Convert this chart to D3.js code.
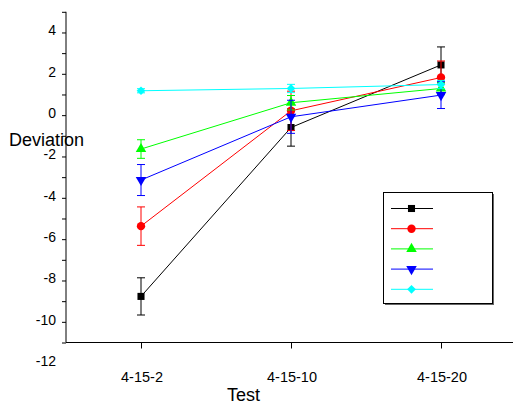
<!DOCTYPE html>
<html>
<head>
<meta charset="utf-8">
<script src="https://cdn.jsdelivr.net/npm/d3@7"></script>
<style>
  body { margin: 0; background: #fff; }
  svg { display: block; font-family: Arial, "Liberation Sans", sans-serif; }
</style>
</head>
<body>
<svg id="chart" width="513" height="405"></svg>
<script>
// categories on the x axis
const tests = ["4-15-2", "4-15-10", "4-15-20"];

// series means
const blackVals = [-8.77, -0.6, 2.43];
const redVals = [-5.37, 0.21, 1.82];
const greenVals = [-1.64, 0.6, 1.29];
const blueVals = [-3.14, -0.08, 0.97];
const cyanVals = [1.18, 1.29, 1.48];

// error bar half heights
const blackErr = [0.9, 0.9, 0.87];
const redErr = [0.93, 0.95, 0.8];
const greenErr = [0.45, 0.35, 0.3];
const blueErr = [0.75, 0.8, 0.65];
const cyanErr = [0.1, 0.2, 0.2];

const yTickLabels = [4, 2, 0, -2, -4, -6, -8, -10, -12];

const series = [
  { color: "#000000", sym: d3.symbolSquare, size: 50, rot: 0, vals: blackVals, err: blackErr },
  { color: "#ff0000", sym: d3.symbolCircle, size: 55, rot: 0, vals: redVals, err: redErr },
  { color: "#00ff00", sym: d3.symbolTriangle, size: 48, rot: 0, vals: greenVals, err: greenErr },
  { color: "#0000ff", sym: d3.symbolTriangle, size: 48, rot: 180, vals: blueVals, err: blueErr },
  { color: "#00ffff", sym: d3.symbolSquare, size: 38, rot: 45, vals: cyanVals, err: cyanErr }
];

const svg = d3.select("#chart");

const x = d3.scalePoint().domain(tests).range([66, 516]).padding(0.5);
const y = d3.scaleLinear().domain([-11, 5]).range([342.5, 11.8]);

// y axis with a tick at every unit, labels on the even values
const yAxis = d3.axisLeft(y)
  .tickValues(d3.range(-11, 6))
  .tickSize(4)
  .tickFormat("");
const gy = svg.append("g").attr("transform", "translate(66,0)").call(yAxis);
gy.select(".domain").attr("d", `M0,${y(5)}V${y(-11)}`);
gy.selectAll("line, path").attr("stroke", "#000");

svg.append("g").selectAll("text")
  .data(yTickLabels)
  .join("text")
  .attr("x", 56)
  .attr("y", d => y(d) + 3)
  .attr("text-anchor", "end")
  .attr("font-size", 14)
  .text(d => d);

// x axis
const xAxis = d3.axisBottom(x).tickSize(6).tickFormat("");
const gx = svg.append("g").attr("transform", `translate(0,${y(-11)})`).call(xAxis);
gx.select(".domain").attr("d", "M66,0H513");
gx.selectAll("line, path").attr("stroke", "#000");

svg.append("g").selectAll("text")
  .data(tests)
  .join("text")
  .attr("x", d => x(d) + 1)
  .attr("y", 382)
  .attr("text-anchor", "middle")
  .attr("font-size", 14.5)
  .text(d => d);

svg.append("text")
  .attr("x", 243.5)
  .attr("y", 401)
  .attr("text-anchor", "middle")
  .attr("font-size", 18)
  .text("Test");

const line = d3.line()
  .x((d, i) => x(tests[i]))
  .y(d => y(d));

series.forEach(s => {
  const g = svg.append("g");
  g.append("path")
    .attr("d", line(s.vals))
    .attr("fill", "none")
    .attr("stroke", s.color)
    .attr("stroke-width", 1);

  // error bars
  s.vals.forEach((v, i) => {
    const cx = x(tests[i]);
    const top = y(v + s.err[i]);
    const bot = y(v - s.err[i]);
    g.append("path")
      .attr("d", `M${cx},${top}V${bot}M${cx - 4},${top}H${cx + 4}M${cx - 4},${bot}H${cx + 4}`)
      .attr("stroke", s.color)
      .attr("fill", "none");
  });

  g.selectAll(".pt")
    .data(s.vals)
    .join("path")
    .attr("transform", (d, i) => `translate(${x(tests[i])},${y(d)}) rotate(${s.rot})`)
    .attr("d", d3.symbol().type(s.sym).size(s.size))
    .attr("fill", s.color);
});

// y axis title, drawn over the axis like the original
svg.append("text")
  .attr("x", 9)
  .attr("y", 146)
  .attr("font-size", 18)
  .text("Deviation");

// legend box (no labels)
const lg = svg.append("g");
lg.append("rect")
  .attr("x", 385).attr("y", 194)
  .attr("width", 109).attr("height", 111)
  .attr("fill", "#666");
lg.append("rect")
  .attr("x", 383.5).attr("y", 192.5)
  .attr("width", 109).attr("height", 111)
  .attr("fill", "#fff")
  .attr("stroke", "#000");

series.forEach((s, i) => {
  const ly = 208.5 + i * 20.2;
  lg.append("line")
    .attr("x1", 391).attr("x2", 433)
    .attr("y1", ly).attr("y2", ly)
    .attr("stroke", s.color);
  lg.append("path")
    .attr("transform", `translate(411.5,${ly}) rotate(${s.rot})`)
    .attr("d", d3.symbol().type(s.sym).size(s.size))
    .attr("fill", s.color);
});
</script>
</body>
</html>
